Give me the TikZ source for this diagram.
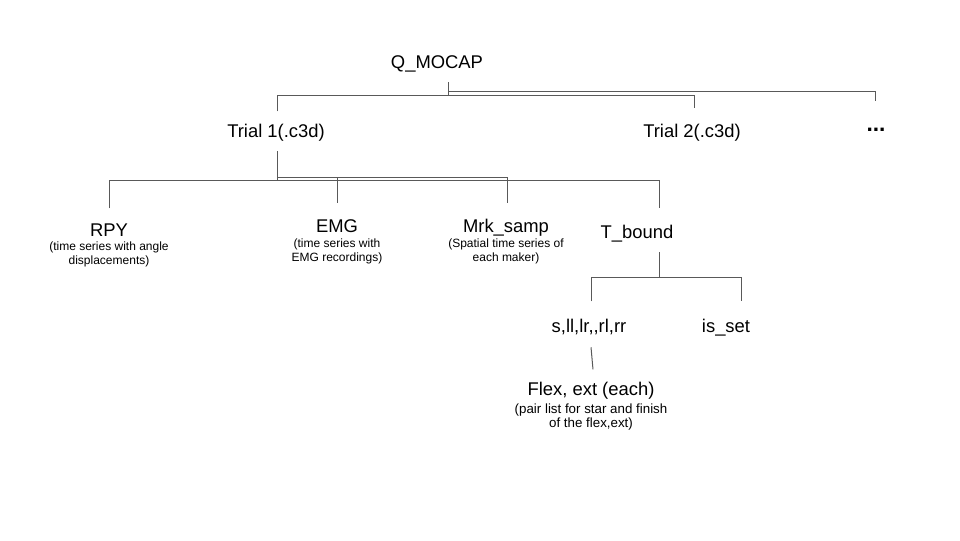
\documentclass[tikz,border=0pt]{standalone}
\usepackage{fontspec}
\setmainfont{Liberation Sans}
\usepackage{tikz}
\usetikzlibrary{calc}
\definecolor{linkgray}{HTML}{595959}
\tikzset{
    field/.style={inner sep=0pt, anchor=base, text height=10pt, text depth=0pt, font=\fontsize{13.8}{16}\selectfont},
    note/.style={inner sep=0pt, anchor=north, align=center, font=\fontsize{9}{11}\selectfont},
    link/.style={draw=linkgray, line width=.75pt},
}

\begin{document}
\begin{tikzpicture}[x=.75pt, y=-.75pt]
    \useasboundingbox (0,0) rectangle (960,540);

    \node[field] (qmocap) at (437,68) {Q\_MOCAP};
    \node[field] (trialA) at (276,137) {Trial 1(.c3d)};
    \node[field] (trialB) at (692,137) {Trial 2(.c3d)};
    \node[field] (more) at (876,137) {\raisebox{4pt}{\fontsize{17}{17}\bfseries...}};

    \node[field] (rpy) at (109,236) {RPY};
    \node[field] (emg) at (337,232) {EMG};
    \node[field] (mrk) at (506,232) {Mrk\_samp};
    \node[field] (tbound) at (637,238) {T\_bound};
    \node[note] (rpy-note) at ($(rpy.south)+(0,5)$) {(time series with angle\\displacements)};
    \node[note] (emg-note) at ($(emg.south)+(0,6)$) {(time series with\\EMG recordings)};
    \node[note] (mrk-note) at ($(mrk.south)+(0,6)$) {(Spatial time series of\\each maker)};

    \node[field] (legs) at (589,332) {s,ll,lr,{},rl,rr};
    \node[field] (isset) at (726,332) {is\_set};
    \node[field] (flex) at (591,395) {Flex, ext (each)};
    \node[note, font=\fontsize{10}{11}\selectfont] (flex-note) at ($(flex.south)+(0,8)$) {(pair list for star and finish\\of the flex,ext)};

    % root
    \coordinate (qfork) at ($(qmocap.south)+(11,27)$);
    \draw[link] ($(qmocap.south)+(11,14)$) -- (qfork);
    \draw[link] ($(trialA.north)+(1,-12)$) |- (qfork) -| ($(trialB.north)+(2,-15)$);
    \draw[link] ($(qfork)+(0,-4)$) -| ($(more.north)+(-1,-22)$);

    % trial 1
    \coordinate (tfork) at ($(trialA.south)+(1,43)$);
    \draw[link] ($(trialA.south)+(1,14)$) -- (tfork);
    \draw[link] ($(tfork)+(0,-3)$) -| ($(emg.north)+(0,-15)$);
    \draw[link] ($(tfork)+(0,-3)$) -| ($(mrk.north)+(1,-15)$);
    \draw[link] ($(rpy.north)+(0,-14)$) |- (tfork) -| ($(tbound.north)+(22,-16)$);

    % T_bound
    \coordinate (bfork) at ($(tbound.south)+(22,39)$);
    \draw[link] ($(tbound.south)+(22,14)$) -- (bfork);
    \draw[link] ($(legs.north)+(2,-17)$) |- (bfork) -| ($(isset.north)+(15,-17)$);
    \draw[link] ($(legs.south)+(2,15)$) -- ($(flex.north)+(2,-12)$);
\end{tikzpicture}
\end{document}
